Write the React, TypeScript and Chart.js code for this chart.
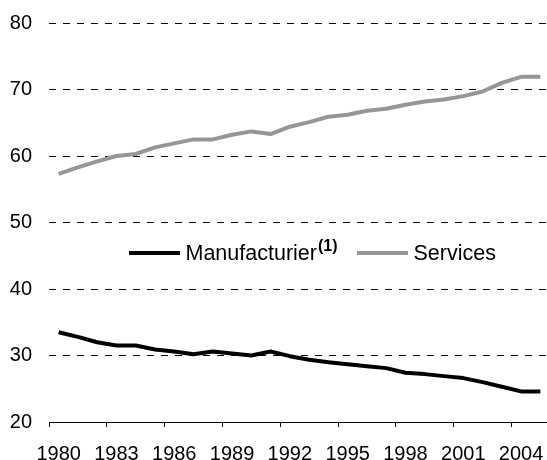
import React, { useEffect, useRef } from 'react';
import { Chart, registerables } from 'chart.js';

Chart.register(...registerables);

const years = [
  '1980', '1981', '1982', '1983', '1984', '1985', '1986', '1987', '1988', '1989',
  '1990', '1991', '1992', '1993', '1994', '1995', '1996', '1997', '1998', '1999',
  '2000', '2001', '2002', '2003', '2004', '2005',
];

const manufacturier = [
  33.5, 32.8, 32.0, 31.5, 31.5, 30.9, 30.6, 30.2, 30.6, 30.3,
  30.0, 30.6, 29.9, 29.35, 29.0, 28.7, 28.4, 28.1, 27.4, 27.2,
  26.9, 26.6, 26.0, 25.3, 24.6, 24.6,
];

const services = [
  57.3, 58.3, 59.2, 60.0, 60.3, 61.3, 61.9, 62.5, 62.5, 63.2,
  63.7, 63.3, 64.4, 65.1, 65.9, 66.2, 66.8, 67.1, 67.7, 68.2,
  68.5, 69.0, 69.7, 71.0, 71.9, 71.9,
];

const seriesLabels = ['Manufacturier', 'Services'];
const seriesNotes = ['(1)', ''];
const seriesColors = ['#000000', '#969696'];

const yMin = 20;
const yMax = 80;
const yStep = 10;
const labelEvery = 3;

const FONT = '"Liberation Sans", Arial, sans-serif';

const legendItemStarts = [129, 357];

const legendPlugin = {
  id: 'customLegend',
  afterDraw(chart: any) {
    const ctx = chart.ctx;
    ctx.save();
    const lineY = 253;
    const baseY = 260;
    chart.data.datasets.forEach((ds: any, i: number) => {
      let x = legendItemStarts[i];
      ctx.strokeStyle = ds.borderColor;
      ctx.lineWidth = 4;
      ctx.lineCap = 'butt';
      ctx.beginPath();
      ctx.moveTo(x, lineY);
      ctx.lineTo(x + 51, lineY);
      ctx.stroke();
      x += 51 + 5.5;
      ctx.font = `21.5px ${FONT}`;
      ctx.fillStyle = '#000';
      ctx.textBaseline = 'alphabetic';
      ctx.textAlign = 'left';
      ctx.fillText(ds.label, x, baseY);
      x += ctx.measureText(ds.label).width;
      const note = seriesNotes[i];
      if (note) {
        ctx.font = `bold 16px ${FONT}`;
        ctx.fillText(note, x + 1, baseY - 9);
      }
    });
    ctx.restore();
  },
};

export default function App() {
  const ref = useRef<HTMLCanvasElement | null>(null);

  useEffect(() => {
    if (!ref.current) return;
    const chart = new Chart(ref.current, {
      type: 'line',
      data: {
        labels: years,
        datasets: [
          {
            label: seriesLabels[0],
            data: manufacturier,
            borderColor: seriesColors[0],
            backgroundColor: seriesColors[0],
            borderWidth: 4,
            pointRadius: 0,
            tension: 0,
            borderJoinStyle: 'round',
          },
          {
            label: seriesLabels[1],
            data: services,
            borderColor: seriesColors[1],
            backgroundColor: seriesColors[1],
            borderWidth: 4,
            pointRadius: 0,
            tension: 0,
            borderJoinStyle: 'round',
          },
        ],
      },
      options: {
        responsive: false,
        animation: false,
        devicePixelRatio: 1,
        layout: { padding: { top: 23, right: 0, bottom: 0, left: 0 } },
        plugins: {
          legend: { display: false },
          tooltip: { enabled: false },
        },
        scales: {
          x: {
            type: 'category',
            offset: true,
            grid: {
              offset: true,
              drawOnChartArea: false,
              drawTicks: true,
              tickLength: 5,
              color: (c: any) => (c.index % labelEvery === 0 ? '#000' : 'rgba(0,0,0,0)'),
              lineWidth: 1,
            },
            border: { display: true, color: '#000', width: 1 },
            ticks: {
              autoSkip: false,
              maxRotation: 0,
              minRotation: 0,
              padding: 15,
              color: '#000',
              font: { family: FONT, size: 20 },
              callback: (_v: any, i: number) => (i % labelEvery === 0 ? years[i] : ''),
            },
            afterFit: (s: any) => {
              s.height = 38;
              s.paddingLeft = 0;
              s.paddingRight = 0;
            },
          },
          y: {
            min: yMin,
            max: yMax,
            border: { display: false, dash: [7, 7] },
            grid: {
              drawTicks: false,
              color: (c: any) => (c.tick && c.tick.value === yMin ? 'rgba(0,0,0,0)' : '#000'),
              lineWidth: 1,
            },
            ticks: {
              stepSize: yStep,
              padding: 17,
              color: '#000',
              font: { family: FONT, size: 20 },
            },
            afterFit: (s: any) => {
              s.width = 49;
              s.paddingTop = 0;
              s.paddingBottom = 0;
            },
          },
        },
      },
      plugins: [legendPlugin],
    } as any);
    return () => chart.destroy();
  }, []);

  return (
    <div style={{ position: 'fixed', left: 0, top: 0, width: 547, height: 460, overflow: 'hidden', background: '#fff' }}>
      <canvas ref={ref} width={550} height={460} style={{ display: 'block' }} />
    </div>
  );
}
